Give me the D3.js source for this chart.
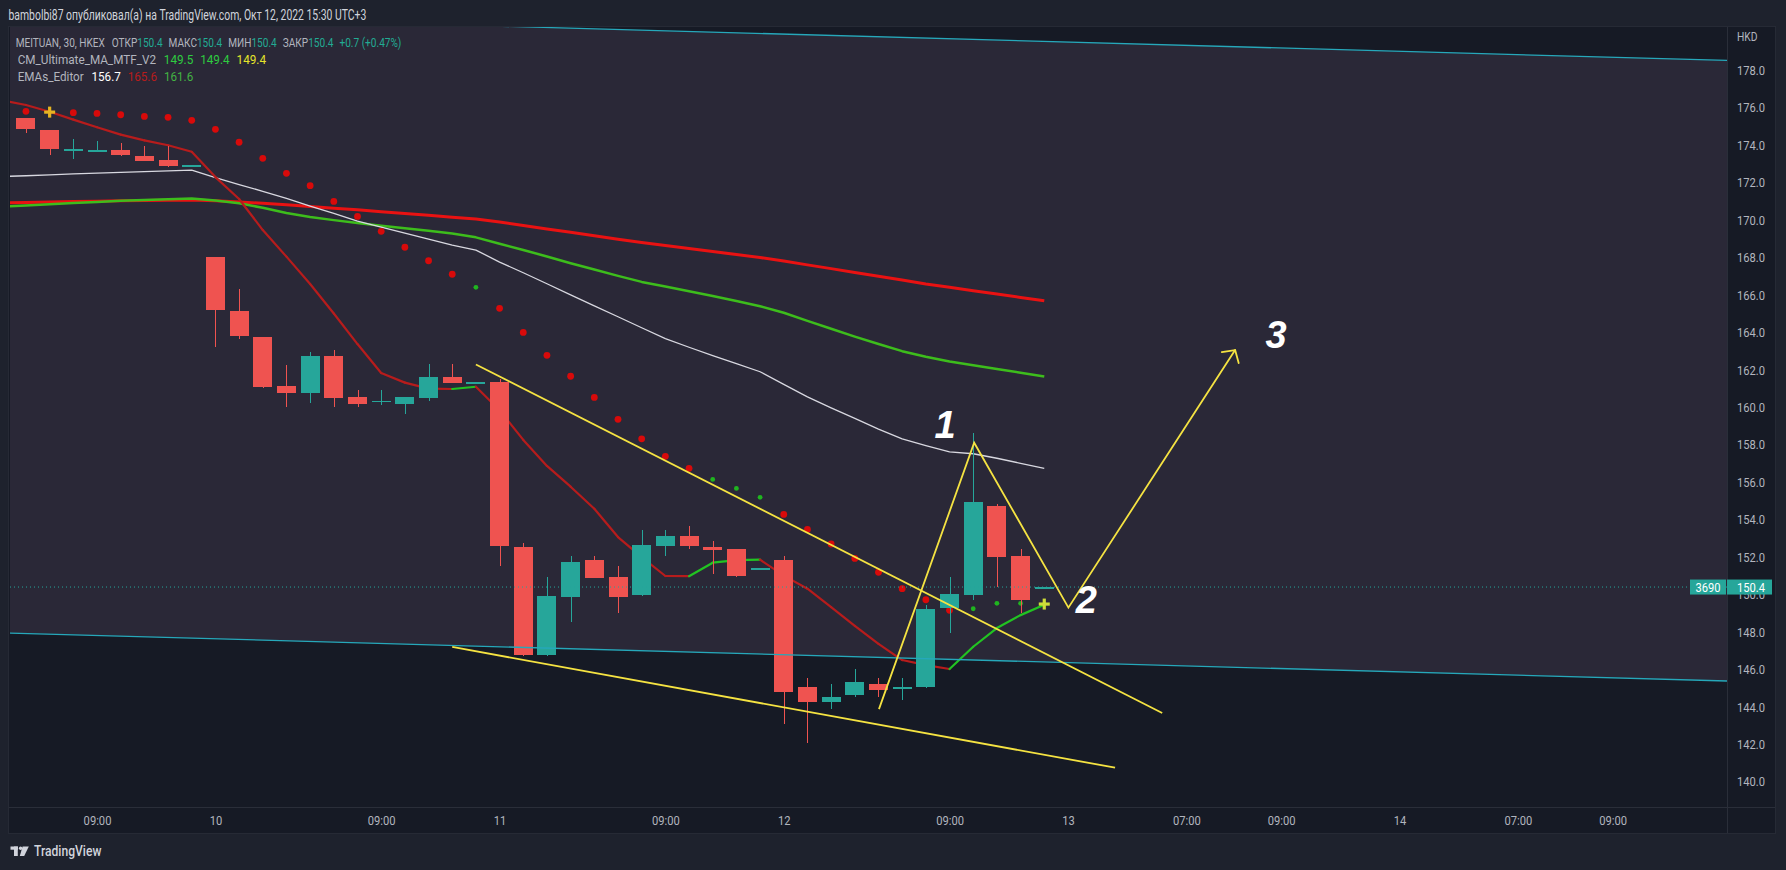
<!DOCTYPE html>
<html><head><meta charset="utf-8">
<script src="https://cdn.jsdelivr.net/npm/d3@7"></script>
<style>
html,body{margin:0;padding:0;background:#1e222d;overflow:hidden}
svg{display:block;font-family:Roboto,"Noto Sans",sans-serif}
</style></head><body>
<svg id="chart" width="1786" height="870"></svg>
<script>
// ---------------- DATA ----------------
const candleIdx = d3.range(-8, 36);
const opens  = [175.45,174.81,173.74,173.72,173.74,173.42,173.21,172.93,
  168.03,165.14,163.74,161.14,160.76,162.74,160.55,160.30,160.18,160.50,161.64,161.34,
  161.35,152.52,146.77,149.88,151.84,150.93,149.99,152.61,153.12,152.52,152.43,151.40,
  151.84,145.04,144.27,144.63,145.22,145.02,145.08,149.26,149.99,154.73,152.06,150.40];
const highs  = [175.45,174.81,174.32,174.23,174.10,173.96,173.96,172.93,
  168.03,166.30,163.74,162.24,162.94,163.06,160.92,160.92,160.55,162.31,162.31,161.34,
  161.50,152.73,150.92,152.06,152.06,151.52,153.45,153.45,153.66,152.86,152.43,151.40,
  152.06,145.52,145.20,146.01,145.52,145.52,149.44,150.92,158.61,154.82,152.41,150.40];
const lows   = [174.67,173.46,173.25,173.65,173.42,173.17,172.85,172.93,
  163.24,163.66,161.05,160.03,160.25,160.03,160.03,160.14,159.66,160.35,161.31,161.34,
  151.54,146.70,146.70,148.55,150.86,149.03,149.92,152.07,152.45,151.08,150.93,151.40,
  143.07,142.05,143.87,144.54,144.54,144.35,144.99,147.96,149.71,150.38,149.00,150.40];
const closes = [174.88,173.81,173.78,173.74,173.49,173.17,172.89,172.93,
  165.20,163.81,161.10,160.76,162.74,160.50,160.18,160.34,160.55,161.64,161.31,161.34,
  152.61,146.77,149.92,151.74,150.90,149.88,152.64,153.12,152.61,152.38,151.00,151.40,
  144.81,144.27,144.53,145.32,144.91,145.06,149.23,150.03,154.94,152.02,149.70,150.40];

const maIdx = d3.range(-9, 36);
const fastMA = [176.40,176.15,175.79,175.37,174.96,174.57,174.26,174.00,173.65,
  172.30,171.13,169.47,168.05,166.59,165.01,163.38,161.83,161.32,161.00,160.98,161.10,
  159.84,158.26,156.87,155.76,154.58,153.07,152.00,150.99,150.98,151.70,151.84,151.86,
  151.01,150.31,149.33,148.32,147.36,146.50,146.23,146.02,147.21,148.21,148.90,149.45];
const whiteMA = [172.33,172.37,172.42,172.47,172.51,172.55,172.59,172.63,172.67,
  172.27,171.90,171.54,171.16,170.75,170.36,169.95,169.62,169.31,168.99,168.66,168.40,
  167.76,167.19,166.60,166.01,165.42,164.84,164.25,163.67,163.21,162.76,162.33,161.90,
  161.23,160.56,159.97,159.41,158.84,158.31,157.96,157.62,157.52,157.28,157.01,156.74];
const redMA = [170.92,170.94,170.97,170.99,171.01,171.03,171.05,171.06,171.07,
  171.03,170.97,170.90,170.82,170.73,170.64,170.55,170.45,170.36,170.26,170.16,170.06,
  169.90,169.71,169.53,169.35,169.17,168.98,168.80,168.64,168.48,168.32,168.16,168.00,
  167.82,167.61,167.41,167.20,167.00,166.80,166.59,166.41,166.23,166.05,165.87,165.69];
const greenMA = [170.72,170.78,170.85,170.91,170.97,171.03,171.08,171.12,171.15,
  171.05,170.90,170.66,170.38,170.17,170.00,169.85,169.70,169.57,169.43,169.28,169.08,
  168.74,168.40,168.06,167.70,167.36,167.02,166.70,166.45,166.20,165.95,165.68,165.40,
  165.05,164.62,164.20,163.78,163.38,163.00,162.70,162.45,162.25,162.05,161.85,161.65];

const sarIdx = [-8].concat(d3.range(-6, 35));
const sarVal = [175.81,175.74,175.70,175.63,175.54,175.49,175.33,
  174.85,174.16,173.30,172.50,171.84,171.00,170.20,169.40,168.55,167.83,167.11,166.41,
  165.29,164.00,162.78,161.66,160.53,159.36,158.32,157.38,156.74,156.15,155.67,155.19,
  154.28,153.48,152.70,151.93,151.19,150.31,149.72,149.16,149.24,149.53,149.53];
const sarGreenIdx = [11,21,22,23,32,33,34];

const crossIdx = [-7, 35];
const crossVal = [175.77, 149.49];
const crossColors = ["#e6b422", "#cddc39"];

const chanIdx = [-8.674, 63.83];
const chanLower = [147.94, 145.38];
const chanUpper = [181.09, 178.53];

const wedgeUpperIdx = [11.0, 39.98], wedgeUpperVal = [162.29, 143.67];
const wedgeLowerIdx = [10.0, 37.99], wedgeLowerVal = [147.20, 140.75];
const zigIdx = [28.02, 32.04, 36.02, 43.06];
const zigVal = [143.88, 158.11, 149.30, 163.06];

const waveLabels = ["1", "2", "3"];
const waveIdx = [30.81, 36.78, 44.79];
const waveVal = [158.36, 149.01, 163.17];

const priceTicks = d3.range(140, 179, 2);
const timeTickIdx = [-5, 0, 7, 12, 19, 24, 31, 36, 41, 45, 50, 55, 59];
const timeTickLabels = ["09:00","10","09:00","11","09:00","12","09:00","13","07:00","09:00","14","07:00","09:00"];
const lastPrice = 150.4;

// ---------------- LAYOUT ----------------
const plot = {l: 10, r: 1727, t: 26, b: 807};
const x = d3.scaleLinear().domain([-8.674, 63.83]).range([plot.l, plot.r]);
const y = d3.scaleLinear().domain([138.65, 180.37]).range([plot.b, plot.t]);
const step = x(1) - x(0);
const C = {up:'#26a69a', down:'#ef5350', grey:'#b2b5be', text:'#d1d4dc'};

const svg = d3.select('#chart');
svg.append('defs').append('clipPath').attr('id','pc').append('rect')
  .attr('x',plot.l).attr('y',plot.t).attr('width',plot.r-plot.l).attr('height',plot.b-plot.t);

// panel
svg.append('rect').attr('x',8).attr('y',26).attr('width',1768).attr('height',808).attr('fill','#161a25');
const g = svg.append('g').attr('clip-path','url(#pc)');
g.append('rect').attr('x',plot.l).attr('y',plot.t).attr('width',plot.r-plot.l).attr('height',plot.b-plot.t).attr('fill','#161a25');

// channel fill
const chanPoly = [[chanIdx[0],chanLower[0]],[chanIdx[1],chanLower[1]],[chanIdx[1],chanUpper[1]],[chanIdx[0],chanUpper[0]]];
g.append('path').attr('d', 'M' + chanPoly.map(p => [x(p[0]), y(p[1])].join(',')).join('L') + 'Z')
  .attr('fill','#2a2837');

// MA lines
const lineGen = d3.line().x(d => x(d[0])).y(d => y(d[1]));
function maLine(vals, color, w){
  g.append('path').datum(maIdx.map((i,k)=>[i, vals[k]])).attr('d', lineGen)
    .attr('fill','none').attr('stroke',color).attr('stroke-width',w).attr('stroke-linejoin','round');
}
maLine(redMA, '#e91212', 3);
maLine(greenMA, '#3dbd1c', 2.5);
maLine(whiteMA, '#d8d8e0', 1.3);

// fast MA colored by direction
const segs = d3.range(1, maIdx.length).map(k => ({
  x1: maIdx[k-1], y1: fastMA[k-1], x2: maIdx[k], y2: fastMA[k], up: fastMA[k] > fastMA[k-1]}));
g.selectAll('line.fast').data(segs).join('line').attr('class','fast')
  .attr('x1', d => x(d.x1)).attr('y1', d => y(d.y1)).attr('x2', d => x(d.x2)).attr('y2', d => y(d.y2))
  .attr('stroke', d => d.up ? '#22c322' : '#b71c1c').attr('stroke-width', 2.2).attr('stroke-linecap','round');

// SAR dots
g.selectAll('circle.sar').data(sarIdx.map((i,k)=>({i, v: sarVal[k], green: sarGreenIdx.includes(i)})))
  .join('circle').attr('class','sar')
  .attr('cx', d => x(d.i)).attr('cy', d => y(d.v))
  .attr('r', d => d.green ? 2.4 : 3.4)
  .attr('fill', d => d.green ? '#1fb51f' : '#d80a0a');

// candles
const candles = candleIdx.map((i,k)=>({i, o:opens[k], h:highs[k], l:lows[k], c:closes[k]}));
const bw = step * 0.8;
const cg = g.append('g').attr('shape-rendering','crispEdges');
cg.selectAll('line.wick').data(candles).join('line').attr('class','wick')
  .attr('x1', d => Math.round(x(d.i)) + 0.5).attr('x2', d => Math.round(x(d.i)) + 0.5)
  .attr('y1', d => y(d.h)).attr('y2', d => y(d.l))
  .attr('stroke', d => d.c >= d.o ? C.up : C.down).attr('stroke-width', 1);
cg.selectAll('rect.body').data(candles).join('rect').attr('class','body')
  .attr('x', d => Math.round(x(d.i) - bw/2)).attr('width', Math.round(bw))
  .attr('y', d => y(Math.max(d.o, d.c)))
  .attr('height', d => Math.max(1.5, Math.abs(y(d.o) - y(d.c))))
  .attr('fill', d => d.c >= d.o ? C.up : C.down);

// crosses
crossIdx.forEach((i,k) => {
  const cx = x(i), cy = y(crossVal[k]), s = 11, t = 3.2;
  g.append('rect').attr('x', cx - s/2).attr('y', cy - t/2).attr('width', s).attr('height', t).attr('fill', crossColors[k]);
  g.append('rect').attr('x', cx - t/2).attr('y', cy - s/2).attr('width', t).attr('height', s).attr('fill', crossColors[k]);
});

// channel lines
[chanLower, chanUpper].forEach(v => {
  g.append('line').attr('x1', x(chanIdx[0])).attr('y1', y(v[0])).attr('x2', x(chanIdx[1])).attr('y2', y(v[1]))
    .attr('stroke','#26a8ba').attr('stroke-width',1.3);
});

// price line
g.append('line').attr('x1', plot.l).attr('x2', plot.r).attr('y1', y(lastPrice)).attr('y2', y(lastPrice))
  .attr('stroke', C.up).attr('stroke-width', 1).attr('stroke-dasharray','1 3');

// yellow drawings
const yel = '#f5e342';
function seg(ix, iv){
  g.append('line').attr('x1', x(ix[0])).attr('y1', y(iv[0])).attr('x2', x(ix[1])).attr('y2', y(iv[1]))
    .attr('stroke', yel).attr('stroke-width', 1.8);
}
seg(wedgeUpperIdx, wedgeUpperVal);
seg(wedgeLowerIdx, wedgeLowerVal);
g.append('path').datum(zigIdx.map((i,k)=>[i, zigVal[k]])).attr('d', lineGen)
  .attr('fill','none').attr('stroke', yel).attr('stroke-width', 1.8).attr('stroke-linejoin','miter');
// arrow head
{
  const n = zigIdx.length;
  const tx = x(zigIdx[n-1]), ty = y(zigVal[n-1]);
  const ang = Math.atan2(ty - y(zigVal[n-2]), tx - x(zigIdx[n-2])) + Math.PI;
  [-0.84, 0.84].forEach(a => {
    g.append('line').attr('x1', tx).attr('y1', ty)
      .attr('x2', tx + 13.5*Math.cos(ang + a)).attr('y2', ty + 13.5*Math.sin(ang + a))
      .attr('stroke', yel).attr('stroke-width', 1.8).attr('stroke-linecap','round');
  });
}
// wave numbers
g.selectAll('text.wave').data(waveLabels).join('text').attr('class','wave')
  .attr('x', (d,k) => x(waveIdx[k])).attr('y', (d,k) => y(waveVal[k]))
  .attr('text-anchor','middle').attr('fill','#ffffff')
  .style('font-family','"Liberation Sans", Arial, sans-serif').style('font-weight','bold').style('font-style','italic')
  .style('font-size','38px').text(d => d);

// ---------------- AXES ----------------
svg.append('line').attr('x1', plot.r + 0.5).attr('x2', plot.r + 0.5).attr('y1', 26).attr('y2', 834).attr('stroke','#2a2e39');
svg.append('line').attr('x1', 8).attr('x2', 1776).attr('y1', plot.b + 0.5).attr('y2', plot.b + 0.5).attr('stroke','#2a2e39');
svg.append('rect').attr('x', 8.5).attr('y', 26.5).attr('width', 1767).attr('height', 807).attr('fill','none').attr('stroke','#262a35');

const yAxis = d3.axisRight(y).tickValues(priceTicks).tickFormat(d => d.toFixed(1)).tickSize(0);
const ya = svg.append('g').attr('transform', `translate(${plot.r},0)`).call(yAxis);
ya.select('.domain').remove();
ya.selectAll('text').attr('x', 0).attr('transform','translate(10,0) scale(0.86,1)')
  .attr('fill', C.grey).style('font-size','13px').style('font-family','Roboto, sans-serif');

const xAxis = d3.axisBottom(x).tickValues(timeTickIdx).tickFormat((d,k) => timeTickLabels[k]).tickSize(0);
const xa = svg.append('g').attr('transform', `translate(0,${plot.b})`).call(xAxis);
xa.select('.domain').remove();
xa.selectAll('text').attr('y', 9).attr('transform','scale(0.86,1)')
  .attr('fill', C.grey).style('font-size','13px').style('font-family','Roboto, sans-serif');

svg.append('text').attr('transform', `translate(${plot.r + 10},${y(180.37) + 15}) scale(0.86,1)`)
  .attr('fill', C.grey).style('font-size','12px').text('HKD');

// last price labels
const ly = y(lastPrice);
svg.append('rect').attr('x', plot.r).attr('y', ly - 7.5).attr('width', 45).attr('height', 15).attr('fill', C.up);
svg.append('text').attr('transform', `translate(${plot.r + 10},${ly}) scale(0.86,1)`).attr('dy','0.35em')
  .attr('fill','#ffffff').style('font-size','13px').text(lastPrice.toFixed(1));
svg.append('rect').attr('x', plot.r - 37).attr('y', ly - 7.5).attr('width', 36).attr('height', 15).attr('fill', C.up);
svg.append('text').attr('transform', `translate(${plot.r - 19},${ly}) scale(0.86,1)`).attr('dy','0.35em')
  .attr('text-anchor','middle').attr('fill','#ffffff').style('font-size','13px').text('3690');

// ---------------- TEXTS ----------------
function fitLine(parts, x0, yc, targetW, size, weight){
  const t = svg.append('text').attr('dy','0.35em').style('font-size', size + 'px').style('font-weight', weight || 400);
  parts.forEach(p => t.append('tspan').attr('dx', p[2]).attr('fill', p[1]).text(p[0]));
  const w = t.node().getBBox().width;
  t.attr('transform', `translate(${x0},${yc}) scale(${targetW / w},1)`);
  return t;
}
fitLine([["bambolbi87 опубликовал(а) на TradingView.com, Окт 12, 2022 15:30 UTC+3", C.text, 0]], 8.5, 15, 358, 14);
const teal = '#22ab94';
fitLine([["MEITUAN, 30, HKEX", C.grey, 0],["ОТКР", C.grey, 9],["150.4", teal, 0],["МАКС", C.grey, 8],["150.4", teal, 0],
  ["МИН", C.grey, 8],["150.4", teal, 0],["ЗАКР", C.grey, 8],["150.4", teal, 0],["+0.7 (+0.47%)", teal, 8]], 15.7, 42, 386, 13.5);
fitLine([["CM_Ultimate_MA_MTF_V2", C.grey, 0],["149.5", '#2ecc40', 9],["149.4", '#2ecc40', 8],["149.4", '#e5e52a', 8]], 17.7, 59, 249, 13.5);
fitLine([["EMAs_Editor", C.grey, 0],["156.7", '#ffffff', 9],["165.6", '#b71c1c', 8],["161.6", '#43b343', 8]], 17.7, 76, 175.6, 13.5);

// TradingView logo
const lg = svg.append('g').attr('fill', C.text);
lg.append('rect').attr('x', 10.5).attr('y', 846.5).attr('width', 7.5).attr('height', 3.2);
lg.append('rect').attr('x', 14).attr('y', 846.5).attr('width', 3.8).attr('height', 9.5);
lg.append('circle').attr('cx', 20.6).attr('cy', 848.2).attr('r', 1.7);
lg.append('path').attr('d', 'M22.6,846.5L28.8,846.5L24.2,856L19.8,856Z');
fitLine([["TradingView", C.text, 0]], 34, 851.5, 68, 14, 500);
</script>
</body></html>
